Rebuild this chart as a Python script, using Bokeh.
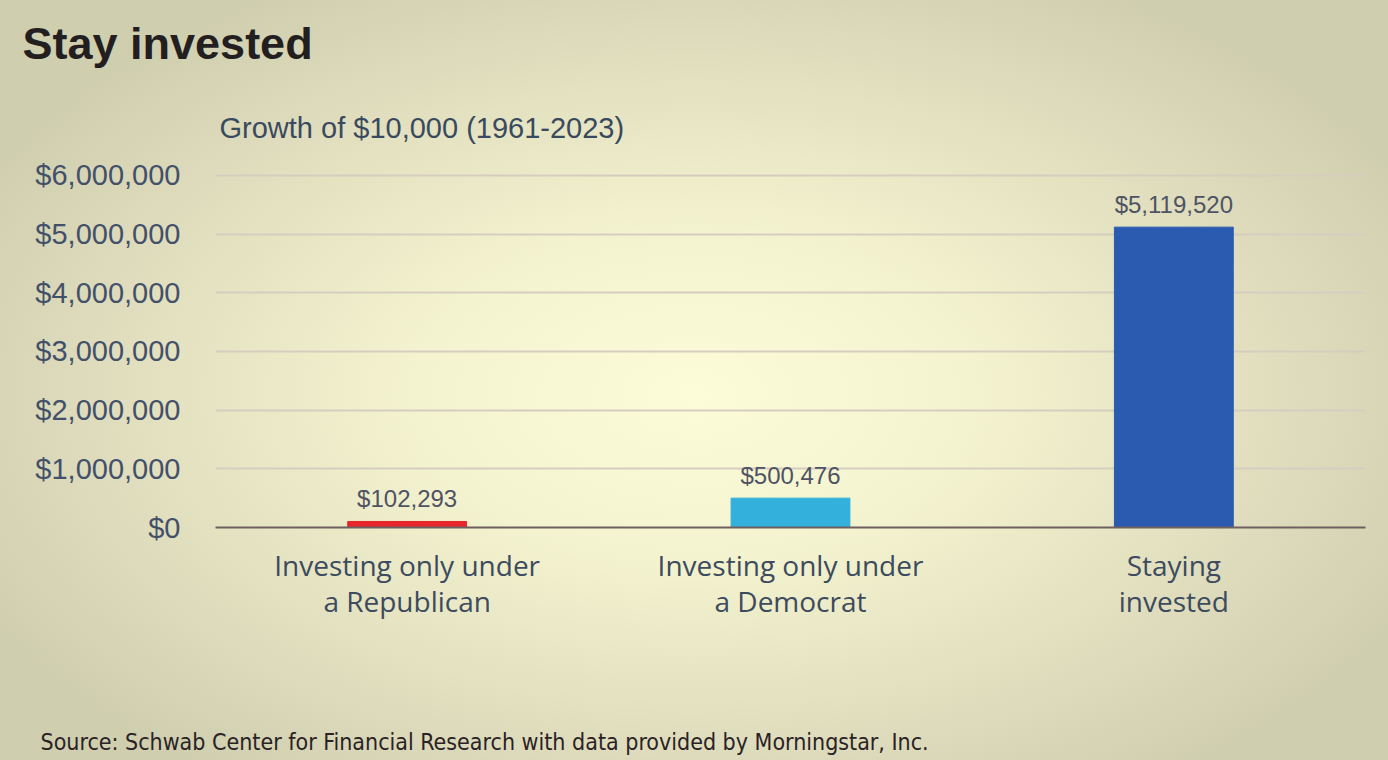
from bokeh.plotting import figure
from bokeh.models import ColumnDataSource, NumeralTickFormatter, FixedTicker, Range1d, FactorRange, Title
from bokeh.core.properties import value
from bokeh.embed import file_html
from bokeh.resources import INLINE

categories = ["Investing only under\na Republican", "Investing only under\na Democrat", "Staying\ninvested"]
values = [102293, 500476, 5119520]
colors = ["#e8262b", "#33b0dc", "#2a5bb0"]
y_ticks = [0, 1000000, 2000000, 3000000, 4000000, 5000000, 6000000]

value_text = ["${:,}".format(v) for v in values]

src = ColumnDataSource(dict(cat=categories, val=values, color=colors, txt=value_text))

p = figure(
    width=1388, height=760, output_backend="svg", toolbar_location=None,
    x_range=FactorRange(*categories, range_padding=0), y_range=Range1d(0, 6034000),
    min_border_left=215, min_border_right=23, min_border_top=173, min_border_bottom=233,
)
p.styles = {"background": "radial-gradient(ellipse 58% 62% at 50% 52%, #fdfcd8 0%, #f4f3cf 35%, #dedcbc 75%, #cfceae 100%)"}
p.background_fill_color = None
p.border_fill_color = None
p.outline_line_color = None

p.vbar(x="cat", top="val", width=0.31, color="color", source=src)
p.text(x="cat", y="val", text="txt", source=src, text_align="center", text_baseline="alphabetic",
       y_offset=-23, text_font_size="24px", text_color="#4f5364", text_font=value("Liberation Sans"))

# axes
p.yaxis.ticker = FixedTicker(ticks=y_ticks)
p.yaxis.formatter = NumeralTickFormatter(format="$0,0")
p.yaxis.axis_line_color = None
p.yaxis.major_tick_line_color = None
p.yaxis.minor_tick_line_color = None
p.yaxis.major_tick_out = 0
p.yaxis.major_label_standoff = 35
p.yaxis.major_label_text_font = "Liberation Sans"
p.yaxis.major_label_text_font_size = "29px"
p.yaxis.major_label_text_color = "#43506a"

p.xaxis.axis_line_color = "#6e5f60"
p.xaxis.axis_line_width = 2
p.xaxis.major_tick_line_color = None
p.xaxis.major_tick_out = 0
p.xaxis.major_label_standoff = 18
p.xaxis.major_label_text_font = "Open Sans"
p.xaxis.major_label_text_font_size = "28px"
p.xaxis.major_label_text_line_height = 0.95
p.xaxis.major_label_text_color = "#3d4b5e"

p.xgrid.grid_line_color = None
p.ygrid.grid_line_color = "#d6cdc0"
p.ygrid.grid_line_width = 2

p.add_layout(Title(text="Growth of $10,000 (1961-2023)", align="left", offset=4, standoff=59,
                   text_font="Liberation Sans", text_font_style="normal", text_font_size="29px",
                   text_color="#3a4a5e"), "above")
p.add_layout(Title(text="Stay invested", align="left", offset=-193, standoff=24,
                   text_font="Liberation Sans", text_font_style="bold", text_font_size="45px",
                   text_color="#231f20"), "above")
# leading empty lines push the source line down to the bottom of the page
p.add_layout(Title(text="\n\n\n\nSource: Schwab Center for Financial Research with data provided by Morningstar, Inc.",
                   align="left", offset=-175, standoff=0, vertical_align="bottom",
                   text_font="'DejaVu Sans Condensed', 'Roboto Condensed', sans-serif",
                   text_font_style="normal", text_font_size="23px",
                   text_color="#2a2224"), "below")

open("out.html", "w").write(file_html(p, INLINE))
